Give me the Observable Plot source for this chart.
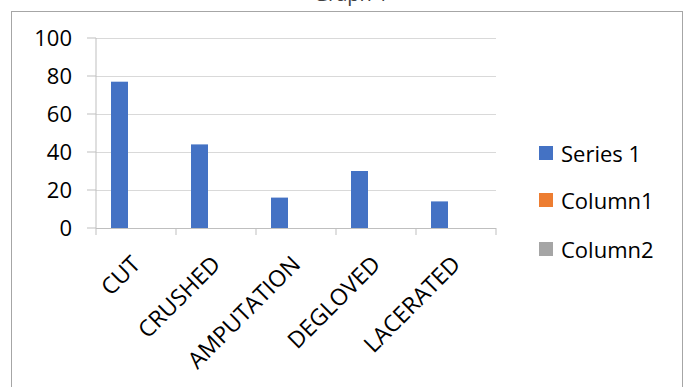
<!DOCTYPE html>
<html>
<head>
<meta charset="utf-8">
<script src="https://cdn.jsdelivr.net/npm/d3@7"></script>
<script src="https://cdn.jsdelivr.net/npm/@observablehq/plot@0.6"></script>
<style>
  html, body { margin: 0; padding: 0; background: #fff; overflow: hidden; }
  body { width: 689px; height: 387px; position: relative; font-family: "Open Sans", Lato, sans-serif; }
  #frame { position: absolute; left: 11px; top: 11px; width: 672px; height: 400px; border: 1px solid #a6a6a6; box-sizing: border-box; }
  #title { position: absolute; left: 0; width: 702px; top: -18px; text-align: center; font-size: 20px; line-height: 24px; color: #404040; }
  #chart { position: absolute; left: 0; top: 0; }
  #legend { position: absolute; left: 539px; top: 0; }
  .item { position: absolute; left: 0; white-space: nowrap; font-size: 22px; color: #000; display: flex; align-items: center; height: 26px; }
  .sw { width: 14px; height: 14px; margin-right: 8px; display: inline-block; }
</style>
</head>
<body>
<div id="frame"></div>
<div id="title">Graph 1</div>
<div id="chart"></div>
<div id="legend"></div>
<script>
const categories = ["CUT", "CRUSHED", "AMPUTATION", "DEGLOVED", "LACERATED"];
const seriesNames = ["Series 1", "Column1", "Column2"];
const series1 = [77, 44, 16, 30, 14];
const column1 = [null, null, null, null, null];
const column2 = [null, null, null, null, null];
const yTicks = [0, 20, 40, 60, 80, 100];
const colors = ["#4472C4", "#ED7D31", "#A5A5A5"];

const valuesBySeries = [series1, column1, column2];
const rows = [];
categories.forEach((c, i) => {
  seriesNames.forEach((s, j) => {
    rows.push({category: c, series: s, value: valuesBySeries[j][i]});
  });
});

const gridColor = "#d9d9d9";
const axisColor = "#bfbfbf";

const plot = Plot.plot({
  width: 520,
  height: 387,
  marginLeft: 95,
  marginRight: 23,
  marginTop: 38,
  marginBottom: 159,
  style: {fontFamily: "'Open Sans', Lato, sans-serif", fontSize: "23px", color: "#000", background: "transparent"},
  fx: {domain: categories, padding: 0, label: null, tickSize: 0, tickPadding: 32, tickRotate: -45, axis: "bottom"},
  x: {domain: seriesNames, paddingInner: 0, paddingOuter: 0.75, axis: null},
  y: {domain: [0, 100], ticks: yTicks, label: null, axis: null},
  color: {domain: seriesNames, range: colors},
  marks: [
    Plot.ruleY(yTicks, {stroke: gridColor, strokeOpacity: 1}),
    Plot.barY(rows.filter(d => d.value != null), {fx: "category", x: "series", y: "value", fill: "series"}),
    Plot.ruleY([0], {stroke: axisColor, strokeOpacity: 1})
  ]
});
document.getElementById("chart").appendChild(plot);

// Axes drawn with the plot's own scales (Excel style: boundary ticks, outward y ticks)
const svg = d3.select(plot);
const fx = plot.scale("fx");
const y = plot.scale("y");
const y0 = y.apply(0);
const yTop = y.apply(100);
const left = fx.apply(categories[0]);
const g = svg.append("g");
g.append("line").attr("x1", left).attr("x2", left).attr("y1", yTop).attr("y2", y0 + 7).attr("stroke", axisColor);
yTicks.forEach(t => {
  const yy = y.apply(t);
  g.append("line").attr("x1", left - 9).attr("x2", left).attr("y1", yy).attr("y2", yy).attr("stroke", axisColor);
  g.append("text").attr("x", left - 24).attr("y", yy).attr("dy", "0.35em").attr("text-anchor", "end")
    .attr("font-size", 22).attr("fill", "#000").text(t);
});
categories.forEach(c => {
  const xx = fx.apply(c) + fx.bandwidth;
  g.append("line").attr("x1", xx).attr("x2", xx).attr("y1", y0).attr("y2", y0 + 7).attr("stroke", axisColor);
});

// legend
const legend = document.getElementById("legend");
const centers = [153, 200, 249];
seriesNames.forEach((s, i) => {
  const item = document.createElement("div");
  item.className = "item";
  item.style.top = (centers[i] - 13) + "px";
  const sw = document.createElement("span");
  sw.className = "sw";
  sw.style.background = colors[i];
  item.appendChild(sw);
  item.appendChild(document.createTextNode(s));
  legend.appendChild(item);
});
</script>
</body>
</html>
